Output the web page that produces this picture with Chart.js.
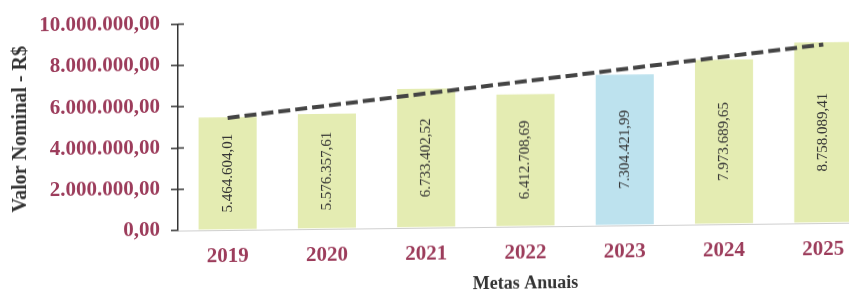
<!DOCTYPE html>
<html>
<head>
<meta charset="utf-8">
<script src="https://cdn.jsdelivr.net/npm/chart.js@4.4.0/dist/chart.umd.min.js"></script>
<style>
  html, body { margin: 0; padding: 0; background: #fff; overflow: hidden; }
  /* the scanned original leans slightly: right side sits higher */
  #wrap { width: 880px; height: 302px; transform: skewY(-0.67deg); transform-origin: 228px 230px; }
</style>
</head>
<body>
<div id="wrap"><canvas id="metasChart" width="880" height="302"></canvas></div>
<script>
const anos = ['2019', '2020', '2021', '2022', '2023', '2024', '2025'];
const valores = [5464604.01, 5576357.61, 6733402.52, 6412708.69, 7304421.99, 7973689.65, 8758089.41];
const tendencia = [5430000, null, null, null, null, null, 8650000];
const yTicks = [0, 2000000, 4000000, 6000000, 8000000, 10000000];
const anoDestaque = '2023';

const corTexto = '#9c3c5b';
const corVerde = '#e4ecb2';
const corAzul = '#bde2ee';
const serif = '"Liberation Serif", "Times New Roman", serif';

function formatBR(v) {
    const partes = v.toFixed(2).split('.');
    return partes[0].replace(/\B(?=(\d{3})+(?!\d))/g, '.') + ',' + partes[1];
}

// small tick marks crossing into the plot, like the original axis
const crossTicks = {
    id: 'crossTicks',
    afterDraw(chart) {
        const y = chart.scales.y;
        const ctx = chart.ctx;
        ctx.save();
        ctx.strokeStyle = '#333';
        ctx.lineWidth = 1.5;
        y.ticks.forEach(t => {
            if (t.value === 0) return;
            const py = y.getPixelForValue(t.value);
            ctx.beginPath();
            ctx.moveTo(y.right, py);
            ctx.lineTo(y.right + 6, py);
            ctx.stroke();
        });
        ctx.restore();
    }
};

// values written vertically inside each bar
const barLabels = {
    id: 'barLabels',
    afterDatasetsDraw(chart) {
        const meta = chart.getDatasetMeta(1);
        const ctx = chart.ctx;
        ctx.save();
        ctx.fillStyle = '#333';
        ctx.font = '15px ' + serif;
        ctx.textAlign = 'center';
        ctx.textBaseline = 'middle';
        meta.data.forEach((bar, i) => {
            const cy = (bar.y + bar.base) / 2;
            ctx.save();
            ctx.translate(bar.x, cy);
            ctx.rotate(-Math.PI / 2);
            ctx.fillText(formatBR(valores[i]), 0, 0);
            ctx.restore();
        });
        ctx.restore();
    }
};

new Chart(document.getElementById('metasChart').getContext('2d'), {
    data: {
        labels: anos,
        datasets: [{
            type: 'line',
            data: tendencia,
            spanGaps: true,
            borderColor: '#444',
            borderWidth: 4,
            borderDash: [12, 5],
            borderCapStyle: 'butt',
            pointRadius: 0,
            fill: false,
            order: 0
        }, {
            type: 'bar',
            data: valores,
            backgroundColor: anos.map(a => a === anoDestaque ? corAzul : corVerde),
            barPercentage: 0.585,
            categoryPercentage: 1,
            order: 1
        }]
    },
    options: {
        responsive: false,
        animation: false,
        layout: { padding: { top: 16, right: 7, bottom: 0, left: 0 } },
        plugins: { legend: { display: false }, tooltip: { enabled: false } },
        scales: {
            x: {
                grid: { display: false, drawTicks: false },
                border: { display: true, color: '#cfcfcf', width: 1, dash: [2, 2] },
                ticks: {
                    color: corTexto,
                    padding: 14,
                    font: { family: serif, size: 21, weight: 'bold' }
                },
                title: {
                    display: true,
                    text: 'Metas Anuais',
                    color: '#333',
                    padding: { top: 4, bottom: 4 },
                    font: { family: serif, size: 18, weight: 'bold' }
                },
                afterFit: s => { s.height = 72; }
            },
            y: {
                min: 0,
                max: 10000000,
                afterBuildTicks: s => { s.ticks = yTicks.map(v => ({ value: v })); },
                grid: { drawOnChartArea: false, tickLength: 7, color: '#333', lineWidth: 1.5 },
                border: { color: '#333', width: 1.5 },
                ticks: {
                    color: corTexto,
                    padding: 11,
                    callback: v => formatBR(v),
                    font: { family: serif, size: 21, weight: 'bold' }
                },
                title: {
                    display: true,
                    text: 'Valor Nominal - R$',
                    color: '#333',
                    padding: { top: 9, bottom: 4 },
                    font: { family: serif, size: 20, weight: 'bold' }
                },
                afterFit: s => { s.width = 178; }
            }
        }
    },
    plugins: [crossTicks, barLabels]
});
</script>
</body>
</html>
